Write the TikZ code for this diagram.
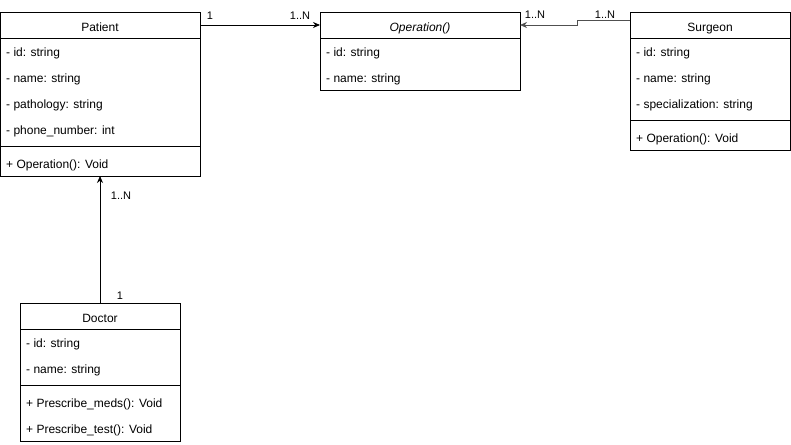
\documentclass[tikz,border=0pt]{standalone}
\usepackage{fontspec}
\setmainfont{Liberation Sans}
\usetikzlibrary{arrows.meta}
\definecolor{linkgray}{HTML}{505050}

\tikzset{
  classbox/.style={draw, line width=0.8pt, inner sep=0pt, outer sep=0pt, anchor=north west},
  classhead/.style={inner sep=0pt, outer sep=0pt, minimum height=26pt, text height=12pt, text depth=0pt},
  attr/.style={anchor=west, inner sep=0pt, yshift=-2pt},
  mult/.style={font=\fontsize{11}{13}\selectfont, inner sep=0pt, yshift=-2pt},
  assoc/.style={line width=0.8pt, -{Stealth[length=7pt, width=6pt]}}
}

\begin{document}
\begin{tikzpicture}[x=1pt, y=-1pt, font=\fontsize{12}{14}\selectfont]
    \useasboundingbox (0,0) rectangle (791,444);

    % Patient
    \node[classbox, minimum width=200pt, minimum height=164pt] (patientbox) at (0,12) {};
    \node[classhead, minimum width=200pt] (patient) at (100,25) {Patient};
    \draw[line width=0.8pt] (0,38) -- (200,38);
    \foreach \txt [count=\i] in {id: string, name: string, pathology: string, phone\_number: int}
        \node[attr] at (6, 25+26*\i) {- \txt};
    \draw[line width=0.8pt] (0,146) -- (200,146);
    \node[attr] at (6,163) {+ Operation(): Void};

    % Operation
    \node[classbox, minimum width=200pt, minimum height=78pt] (operationbox) at (320,12) {};
    \node[classhead, minimum width=200pt] (operation) at (420,25) {\textit{Operation()}};
    \draw[line width=0.8pt] (320,38) -- (520,38);
    \foreach \txt [count=\i] in {id: string, name: string}
        \node[attr] at (326, 25+26*\i) {- \txt};

    % Surgeon
    \node[classbox, minimum width=160pt, minimum height=138pt] (surgeonbox) at (630,12) {};
    \node[classhead, minimum width=160pt] (surgeon) at (710,25) {Surgeon};
    \draw[line width=0.8pt] (630,38) -- (790,38);
    \foreach \txt [count=\i] in {id: string, name: string, specialization: string}
        \node[attr] at (636, 25+26*\i) {- \txt};
    \draw[line width=0.8pt] (630,120) -- (790,120);
    \node[attr] at (636,137) {+ Operation(): Void};

    % Doctor
    \node[classbox, minimum width=160pt, minimum height=138pt] (doctorbox) at (20,303) {};
    \node[classhead, minimum width=160pt] (doctor) at (100,316) {Doctor};
    \draw[line width=0.8pt] (20,329) -- (180,329);
    \foreach \txt [count=\i] in {id: string, name: string}
        \node[attr] at (26, 316+26*\i) {- \txt};
    \draw[line width=0.8pt] (20,385) -- (180,385);
    \node[attr] at (26,402) {+ Prescribe\_meds(): Void};
    \node[attr] at (26,428) {+ Prescribe\_test(): Void};

    % Associations
    \draw[assoc] (patient.east) -- (operation.west);
    \node[mult] (pat1) at (210,14) {1};
    \node[mult] (op1) at (300,14) {1..N};

    \draw[assoc, linkgray] ([yshift=5pt]surgeon.west) -- ++(-53,0) |- (operation.east);
    \node[mult] (op2) at (535,13) {1..N};
    \node[mult] (sur1) at (605,13) {1..N};

    \draw[assoc] (doctor.north) -- (patientbox.south -| doctor.north);
    \node[mult] (pat2) at (121,194) {1..N};
    \node[mult] (doc1) at (120,294) {1};
\end{tikzpicture}
\end{document}
